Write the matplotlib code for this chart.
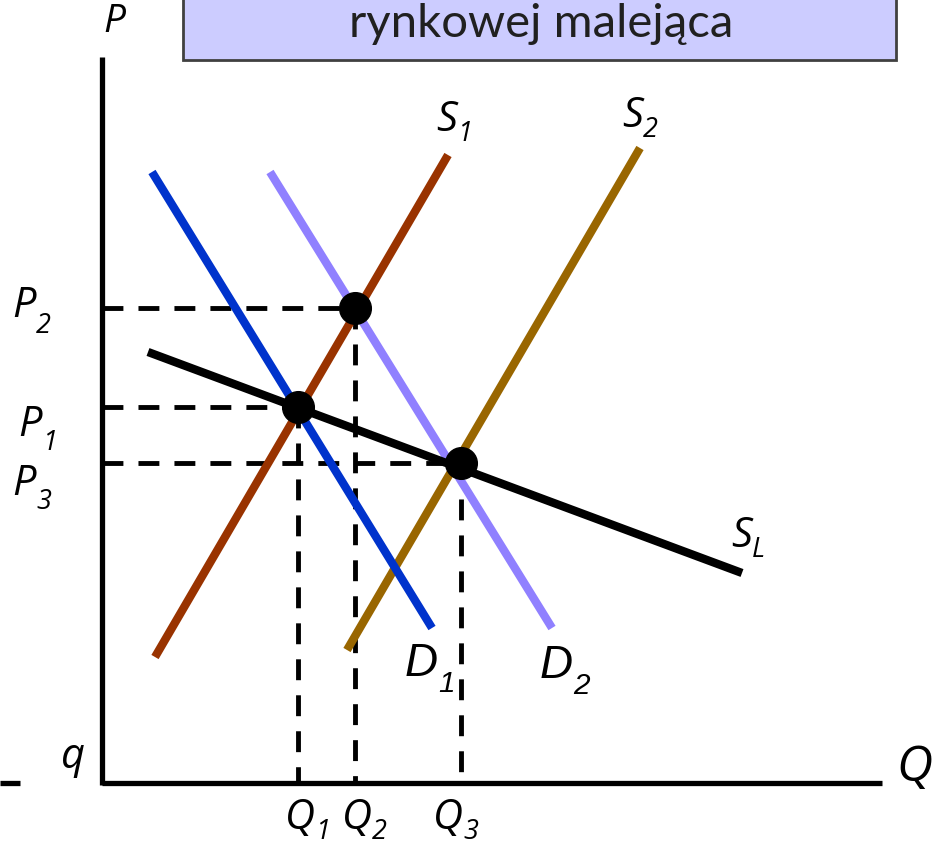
import matplotlib
matplotlib.use("Agg")
import matplotlib.pyplot as plt
from matplotlib.patches import Rectangle

W, H = 932, 852

# curve endpoints (picture coordinates, y downwards)
d1_x = [152, 432]
d1_y = [172, 628]
d2_x = [270, 552]
d2_y = [172, 628]
s1_x = [155, 448]
s1_y = [657, 155]
s2_x = [347, 640]
s2_y = [650, 148]
sl_x = [148, 742]
sl_y = [352, 573]

# equilibria: (Q1,P1), (Q2,P2), (Q3,P3)
eq_q = [298, 355, 461]
eq_p = [407, 308, 463]

origin_x, origin_y = 102, 783

fig = plt.figure(figsize=(W / 100, H / 100), dpi=100)
ax = fig.add_axes([0, 0, 1, 1])
ax.set_xlim(0, W)
ax.set_ylim(H, 0)
ax.axis("off")

# title box
ax.add_patch(Rectangle((183, -10), 713, 70, facecolor="#ccccff",
                       edgecolor="#404040", lw=2))
ax.text(541, 24, "rynkowej malejąca", fontsize=34, family="Lato",
        ha="center", va="center", color="#202020")

# axes
ax.plot([origin_x, origin_x], [57, origin_y + 2], color="black", lw=3.8,
        solid_capstyle="butt")
ax.plot([origin_x, 882], [origin_y, origin_y], color="black", lw=3.8,
        solid_capstyle="butt")
ax.plot([0, 20], [origin_y, origin_y], color="black", lw=3.8,
        solid_capstyle="butt")

# dashed guides
for q, p in zip(eq_q, eq_p):
    ax.plot([origin_x, q], [p, p], color="black", lw=3.5,
            dashes=(4.3, 3.1), solid_capstyle="butt")
    ax.plot([q, q], [p, origin_y], color="black", lw=3.5,
            dashes=(4.3, 3.1), solid_capstyle="butt")

# curves
ax.plot(s1_x, s1_y, color="#993300", lw=6, solid_capstyle="butt")
ax.plot(s2_x, s2_y, color="#996600", lw=6, solid_capstyle="butt")
ax.plot(d1_x, d1_y, color="#0033cc", lw=6, solid_capstyle="butt")
ax.plot(d2_x, d2_y, color="#9080ff", lw=6, solid_capstyle="butt")
ax.plot(sl_x, sl_y, color="black", lw=6, solid_capstyle="butt")

ax.scatter(eq_q, eq_p, s=520, color="black", zorder=5)

lab = dict(family="Open Sans", style="italic", color="black",
           ha="center", va="center")


def sublabel(x, y, main, sub, size=30, family="Open Sans", off=14):
    ax.text(x, y, main, fontsize=size, family=family, style="italic",
            ha="right", va="center")
    ax.text(x, y + off, sub, fontsize=size * 0.65, family=family,
            style="italic", ha="left", va="center")


ax.text(114, 22, "P", fontsize=28, **lab)
ax.text(73, 757, "q", fontsize=30, **lab)
ax.text(914, 768, "Q", fontsize=36, **lab)

sublabel(36, 306, "P", "2", off=20)
sublabel(42, 425, "P", "1", off=18)
sublabel(36, 484, "P", "3", off=18)
sublabel(315, 818, "Q", "1")
sublabel(372, 818, "Q", "2")
sublabel(463, 818, "Q", "3")
sublabel(457, 120, "S", "1")
sublabel(643, 116, "S", "2")
sublabel(752, 536, "S", "L")
sublabel(438, 664, "D", "1", size=33, family="Liberation Sans", off=20)
sublabel(573, 666, "D", "2", size=33, family="Liberation Sans", off=20)

fig.savefig("out.png", dpi=100)
